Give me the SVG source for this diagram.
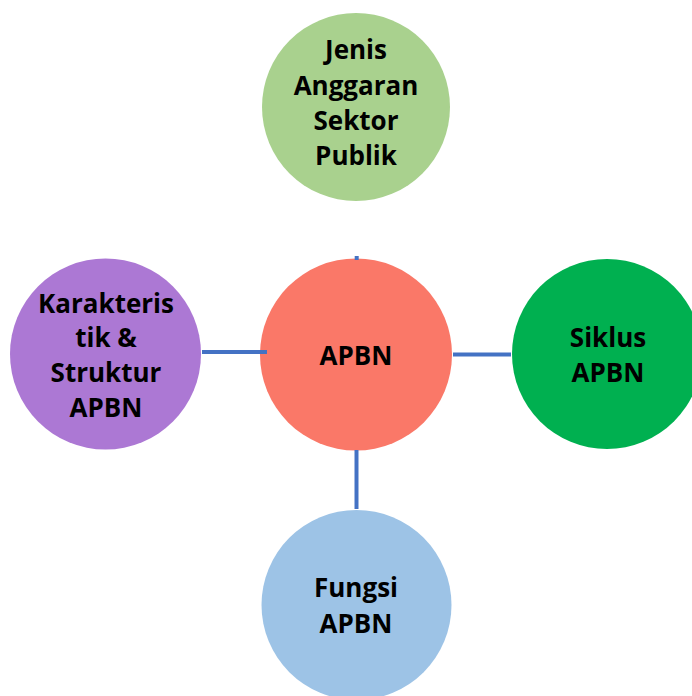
<svg xmlns="http://www.w3.org/2000/svg" width="692" height="696" viewBox="0 0 692 696">
  <style>
    .lbl { font-family: "Open Sans", "Noto Sans", "Liberation Sans", sans-serif; font-weight: bold; font-size: 26px; fill: #000; text-anchor: middle; }
    .link { stroke: #4472C4; stroke-width: 4; fill: none; }
  </style>
  <rect width="692" height="696" fill="#ffffff"/>

  <g id="node-jenis">
    <circle cx="356" cy="107" r="94" fill="#A9D18E"/>
    <text class="lbl" x="356" y="59">Jenis</text>
    <text class="lbl" x="356" y="95">Anggaran</text>
    <text class="lbl" x="356" y="130">Sektor</text>
    <text class="lbl" x="356" y="165">Publik</text>
  </g>

  <g id="node-apbn">
    <circle cx="356" cy="354.5" r="96" fill="#FA7868"/>
    <text class="lbl" x="356" y="365">APBN</text>
  </g>

  <g id="node-karakteristik">
    <circle cx="105.5" cy="354" r="95.5" fill="#AC78D4"/>
    <text class="lbl" x="106" y="313">Karakteris</text>
    <text class="lbl" x="106" y="347">tik &amp;</text>
    <text class="lbl" x="106" y="382">Struktur</text>
    <text class="lbl" x="106" y="417">APBN</text>
  </g>

  <g id="node-siklus">
    <circle cx="607" cy="354" r="95" fill="#00B050"/>
    <text class="lbl" x="608" y="347">Siklus</text>
    <text class="lbl" x="608" y="382">APBN</text>
  </g>

  <g id="node-fungsi">
    <circle cx="356.5" cy="605" r="95" fill="#9DC3E6"/>
    <text class="lbl" x="356" y="597">Fungsi</text>
    <text class="lbl" x="356" y="633">APBN</text>
  </g>

  <!-- connectors, drawn over the circle edges -->
  <g id="connectors">
    <line class="link" x1="202" y1="352" x2="267" y2="352"/>
    <line class="link" x1="453" y1="354.5" x2="511" y2="354.5" stroke-width="3.5"/>
    <line class="link" x1="356.5" y1="450" x2="356.5" y2="509"/>
    <line class="link" x1="356.7" y1="256" x2="356.7" y2="260" stroke-width="1.5"/>
  </g>
</svg>
